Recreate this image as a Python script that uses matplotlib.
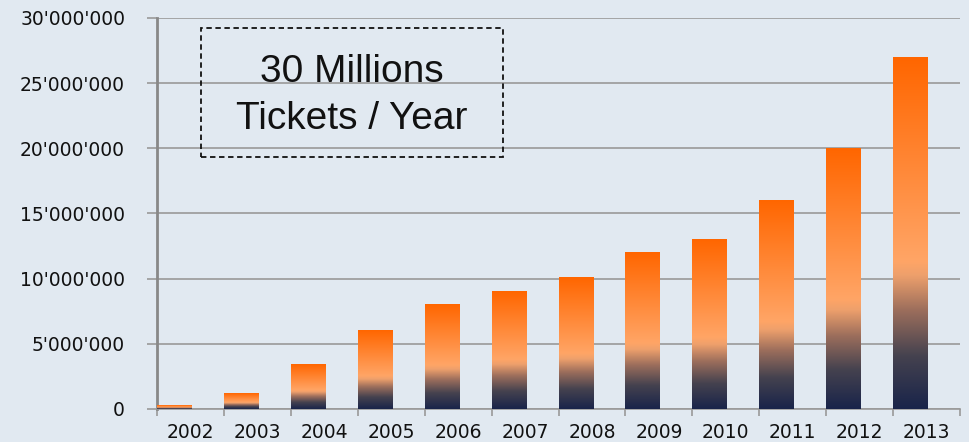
import matplotlib.pyplot as plt
import numpy as np
from matplotlib.colors import LinearSegmentedColormap
from matplotlib.patches import Rectangle
from matplotlib.ticker import FuncFormatter, FixedLocator

# data
years = ['2002', '2003', '2004', '2005', '2006', '2007',
         '2008', '2009', '2010', '2011', '2012', '2013']
tickets = [300000, 1200000, 3450000, 6000000, 8000000, 9000000,
           10100000, 12000000, 13000000, 16000000, 20000000, 27000000]

bg = '#e1e9f1'
grad = LinearSegmentedColormap.from_list('bar', [
    (0.0, '#19244a'), (0.15, '#45424f'), (0.28, '#9c6e5c'),
    (0.38, '#eea06c'), (0.42, '#ffa566'), (1.0, '#ff6600')])

fig = plt.figure(figsize=(9.7, 4.42), dpi=100, facecolor=bg)
ax = fig.add_axes([0.1619, 0.0747, 0.8278, 0.8846], facecolor=bg)

x = np.arange(len(years))
bw = 0.52
bars = ax.bar(x - 0.5, tickets, width=bw, align='edge', color='none',
              zorder=3)
g = np.linspace(0, 1, 256).reshape(-1, 1)
for b in bars:
    x0, h = b.get_x(), b.get_height()
    ax.imshow(g, cmap=grad, origin='lower', aspect='auto', zorder=3,
              extent=(x0, x0 + bw, 0, h), interpolation='bilinear')

ax.set_xlim(-0.5, len(years) - 0.5)
ax.set_ylim(0, 30000000)
ax.set_yticks(np.arange(0, 30000001, 5000000))
ax.yaxis.set_major_formatter(FuncFormatter(lambda v, p: f'{int(v):,}'.replace(',', "'")))
ax.grid(axis='y', color='#999999', linewidth=1.2, zorder=1)

ax.set_xticks(x)
ax.set_xticklabels(years)
ax.xaxis.set_minor_locator(FixedLocator(np.arange(-0.5, len(years), 1)))
ax.tick_params(axis='x', which='major', length=0, pad=10, labelsize=13.5,
               labelcolor='#111111')
ax.tick_params(axis='x', which='minor', length=5, width=1.2, color='#999999')
ax.tick_params(axis='y', length=7, width=1.2, color='#999999', pad=16,
               labelsize=13.5, labelcolor='#111111')

for s in ['top', 'right']:
    ax.spines[s].set_visible(False)
ax.spines['left'].set_color('#888888')
ax.spines['left'].set_linewidth(2)
ax.spines['bottom'].set_color('#999999')
ax.spines['bottom'].set_linewidth(1.2)
ax.set_axisbelow(True)

# dashed text box
fig.patches.append(Rectangle((0.2072, 0.6448), 0.3113, 0.2919,
                             transform=fig.transFigure, fill=False,
                             linestyle=(0, (3, 2)), linewidth=1.3,
                             edgecolor='#111111', zorder=5))
fig.text(0.3629, 0.784, '30 Millions\nTickets / Year', ha='center',
         va='center', fontsize=28, family='Liberation Sans',
         linespacing=1.42, color='#111111')

plt.savefig('out.png', dpi=100, facecolor=bg)
